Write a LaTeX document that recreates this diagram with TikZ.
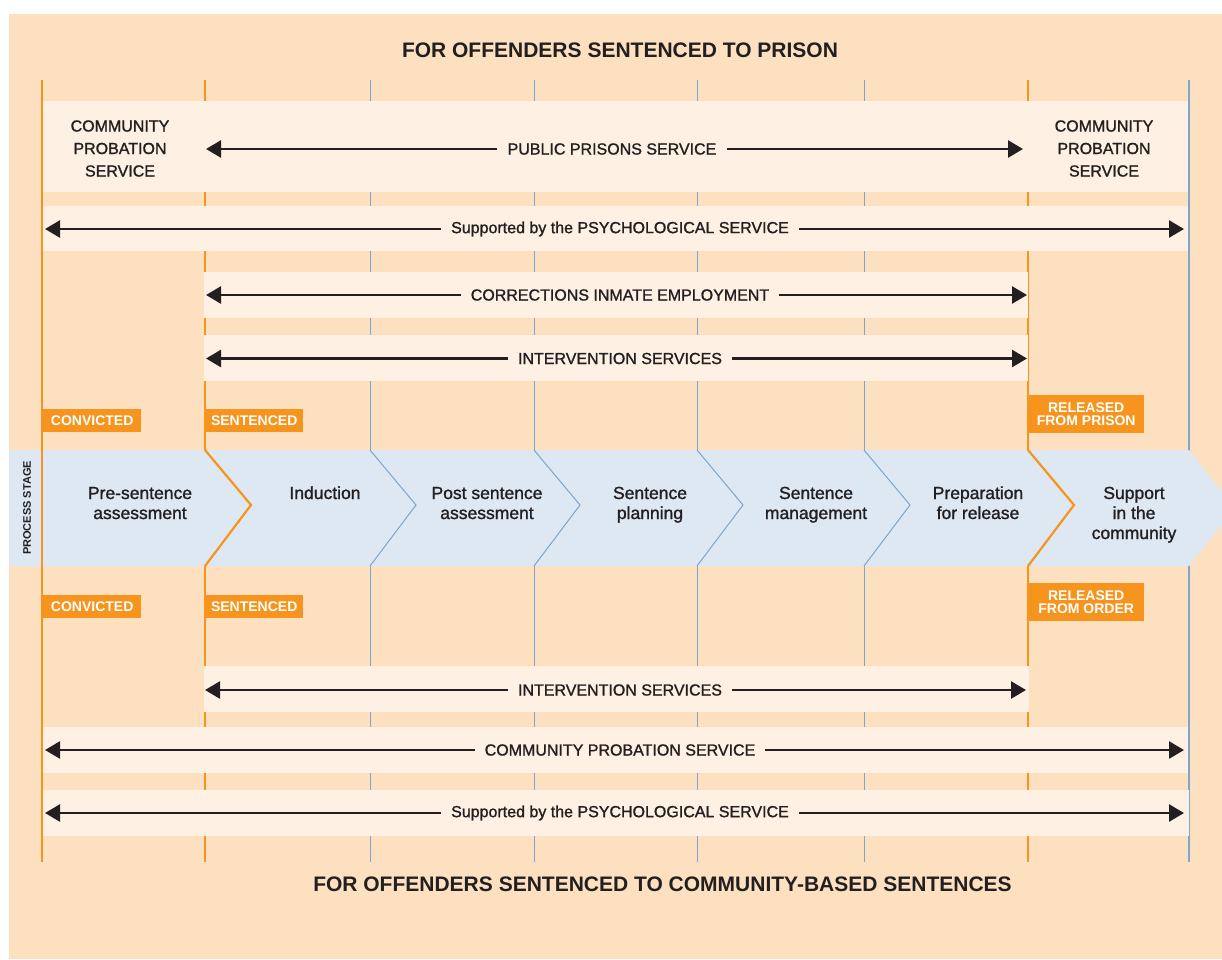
\documentclass[tikz,border=0pt]{standalone}
\usepackage{fontspec}
\setmainfont{Liberation Sans}
\usetikzlibrary{arrows.meta}

% medium-weight faces: Liberation Sans slightly emboldened
\font\bandfont="Liberation Sans:embolden=1.3" at 16pt
\font\stagefont="Liberation Sans:embolden=1.3" at 17.5pt

\definecolor{bgpeach}{HTML}{FCE0BF}
\definecolor{bandcream}{HTML}{FEF1E3}
\definecolor{stageblue}{HTML}{DDE8F2}
\definecolor{tagorange}{HTML}{F7941D}
\definecolor{divblue}{HTML}{7BA6D0}
\definecolor{ink}{HTML}{231F20}

\tikzset{
  heading/.style={font=\bfseries\fontsize{21}{24}\selectfont, text=ink, inner sep=0pt},
  bandtext/.style={font={\bandfont\baselineskip=22.5pt}, text=ink, align=center, inner sep=0pt},
  arrowlabel/.style={font=\bandfont, text=ink, fill=bandcream, inner xsep=10pt, inner ysep=3pt},
  stagetext/.style={font={\stagefont\baselineskip=20pt}, text=ink, align=center, inner sep=0pt, anchor=base},
  tag/.style={fill=tagorange, text=white, font=\bfseries\fontsize{14}{12.5}\selectfont, align=center,
              inner sep=0pt, anchor=north west, minimum width=98pt, minimum height=23pt},
  widetag/.style={tag, minimum width=116pt, minimum height=38pt},
  arr/.style={draw=ink, line width=2.6pt, -{Triangle[length=15pt,width=17pt]}},
  orangediv/.style={draw=tagorange, line width=2.2pt},
  bluediv/.style={draw=divblue, line width=1pt},
  band/.style={fill=bandcream},
}

\begin{document}
\begin{tikzpicture}[x=1pt,y=-1pt]
  \useasboundingbox (0,0) rectangle (1222,959);
  \fill[white] (0,0) rectangle (1222,959);
  \fill[bgpeach] (9,14) rectangle (1222,959);

  % stage dividers, full height
  \foreach \xx in {42,205,1028} \draw[orangediv] (\xx,80) -- (\xx,862);
  \foreach \xx in {370,534,697,864} \draw[bluediv] (\xx,80) -- (\xx,862);
  \draw[draw=divblue, line width=2.2pt] (1189,80) -- (1189,862);

  % service bands
  \fill[band] (43,101) rectangle (1188,192);
  \fill[band] (43,206) rectangle (1188,251);
  \fill[band] (204,272) rectangle (1028,318);
  \fill[band] (204,335) rectangle (1028,381);
  \fill[band] (204,666) rectangle (1029,712);
  \fill[band] (43,727) rectangle (1188,773);
  \fill[band] (43,790) rectangle (1189,836);

  % process stage strip with chevrons
  \fill[stageblue] (9,450) -- (1189,450) -- (1222,491.6) -- (1222,524.4) -- (1189,566) -- (9,566) -- cycle;
  \draw[orangediv] (42,450) -- (42,566);
  \foreach \xx in {205,1028} \draw[orangediv, line join=miter] (\xx,450) -- (\xx+46,505) -- (\xx,566);
  \foreach \xx in {370,534,697,864} \draw[bluediv] (\xx,450) -- (\xx+46,505) -- (\xx,566);

  \node[rotate=90, font=\bfseries\fontsize{11}{12}\selectfont, text=ink, inner sep=0pt] (ps) at (27,508) {PROCESS STAGE};

  % stage names (anchored on the baseline of their last line)
  \node[stagetext] (s1) at (140,519) {Pre-sentence\\assessment};
  \node[stagetext] (s2) at (325,499) {Induction};
  \node[stagetext] (s3) at (487,519) {Post sentence\\assessment};
  \node[stagetext] (s4) at (650,519) {Sentence\\planning};
  \node[stagetext] (s5) at (816,519) {Sentence\\management};
  \node[stagetext] (s6) at (978,519) {Preparation\\for release};
  \node[stagetext] (s7) at (1134,539) {Support\\in the\\community};

  % milestone tags
  \node[tag] (conv1) at (43,409) {CONVICTED};
  \node[tag] (sent1) at (205,409) {SENTENCED};
  \node[widetag] (rel1) at (1028,395) {RELEASED\\FROM PRISON};
  \node[tag] (conv2) at (43,595) {CONVICTED};
  \node[tag] (sent2) at (205,595) {SENTENCED};
  \node[widetag] (rel2) at (1028,583) {RELEASED\\FROM ORDER};

  % headings
  \node[heading] (top) at (620,50.5) {FOR OFFENDERS SENTENCED TO PRISON};
  \node[heading] (bottom) at (662.5,884) {FOR OFFENDERS SENTENCED TO COMMUNITY-BASED SENTENCES};

  % community probation blocks either side of prison
  \node[bandtext] (cpl) at (120,148.5) {COMMUNITY\\PROBATION\\SERVICE};
  \node[bandtext] (cpr) at (1104,148.5) {COMMUNITY\\PROBATION\\SERVICE};

  % service spans
  \coordinate (a1l) at (206,149);  \coordinate (a1r) at (1023,149);
  \node[arrowlabel] (a1) at (612,149) {PUBLIC PRISONS SERVICE};
  \draw[arr] (a1.west) -- (a1l);  \draw[arr] (a1.east) -- (a1r);

  \coordinate (a2l) at (45,229);  \coordinate (a2r) at (1184,229);
  \node[arrowlabel] (a2) at (620,229) {Supported by the PSYCHOLOGICAL SERVICE};
  \draw[arr] (a2.west) -- (a2l);  \draw[arr] (a2.east) -- (a2r);

  \coordinate (a3l) at (206,295);  \coordinate (a3r) at (1027,295);
  \node[arrowlabel] (a3) at (620,295) {CORRECTIONS INMATE EMPLOYMENT};
  \draw[arr] (a3.west) -- (a3l);  \draw[arr] (a3.east) -- (a3r);

  \coordinate (a4l) at (206,358.5);  \coordinate (a4r) at (1027,358.5);
  \node[arrowlabel] (a4) at (620,358.5) {INTERVENTION SERVICES};
  \draw[arr] (a4.west) -- (a4l);  \draw[arr] (a4.east) -- (a4r);

  \coordinate (b1l) at (205,690);  \coordinate (b1r) at (1026,690);
  \node[arrowlabel] (b1) at (620,690) {INTERVENTION SERVICES};
  \draw[arr] (b1.west) -- (b1l);  \draw[arr] (b1.east) -- (b1r);

  \coordinate (b2l) at (45,750);  \coordinate (b2r) at (1184,750);
  \node[arrowlabel] (b2) at (620,750) {COMMUNITY PROBATION SERVICE};
  \draw[arr] (b2.west) -- (b2l);  \draw[arr] (b2.east) -- (b2r);

  \coordinate (b3l) at (45,813);  \coordinate (b3r) at (1184,813);
  \node[arrowlabel] (b3) at (620,813) {Supported by the PSYCHOLOGICAL SERVICE};
  \draw[arr] (b3.west) -- (b3l);  \draw[arr] (b3.east) -- (b3r);
\end{tikzpicture}
\end{document}
